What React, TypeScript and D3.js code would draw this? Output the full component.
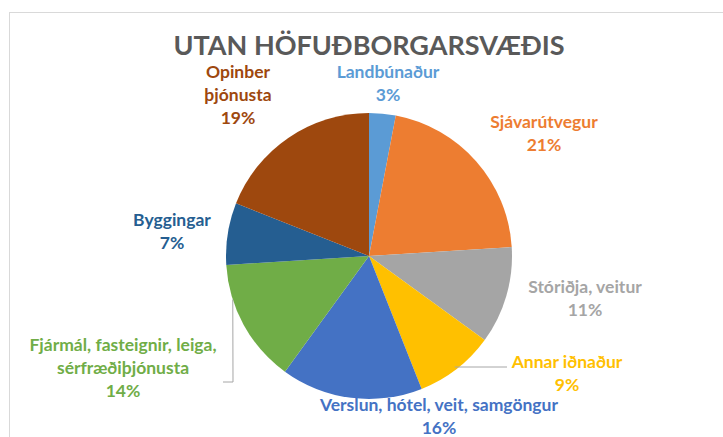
import React from "react";
import * as d3 from "d3";

const categories = [
  "Landbúnaður",
  "Sjávarútvegur",
  "Stóriðja, veitur",
  "Annar iðnaður",
  "Verslun, hótel, veit, samgöngur",
  "Fjármál, fasteignir, leiga, sérfræðiþjónusta",
  "Byggingar",
  "Opinber þjónusta",
];
const values = [3, 21, 11, 9, 16, 14, 7, 19];
const labelLines = [
  ["Landbúnaður"],
  ["Sjávarútvegur"],
  ["Stóriðja, veitur"],
  ["Annar iðnaður"],
  ["Verslun, hótel, veit, samgöngur"],
  ["Fjármál, fasteignir, leiga,", "sérfræðiþjónusta"],
  ["Byggingar"],
  ["Opinber", "þjónusta"],
];
const colors = ["#5B9BD5", "#ED7D31", "#A5A5A5", "#FFC000", "#4472C4", "#70AD47", "#255E91", "#9E480E"];
const title = "UTAN HÖFUÐBORGARSVÆÐIS";

// label anchor positions (center x, first baseline y)
const labelPos: [number, number][] = [
  [388, 78],
  [544, 128],
  [585, 293],
  [567, 368],
  [439, 411],
  [123, 351],
  [172, 226],
  [238, 78],
];

export default function App() {
  const W = 723, H = 437;
  const cx = 369, cy = 256, r = 143;
  const pie = d3.pie<number>().sort(null).value((d) => d)(values);
  const arc = d3.arc<d3.PieArcDatum<number>>().innerRadius(0).outerRadius(r);
  const lh = 23;
  const font = "Lato, 'Open Sans', sans-serif";

  const annarA = pie[3];
  const fjarA = pie[5];
  const annarAng = (annarA.startAngle + annarA.endAngle) / 2;
  const annarStart: [number, number] = [cx + Math.sin(annarAng) * r * 0.98, cy - Math.cos(annarAng) * r * 0.98];
  const fjarAng = fjarA.startAngle + (fjarA.endAngle - fjarA.startAngle) * 0.72;
  const fjarStart: [number, number] = [cx + Math.sin(fjarAng) * r, cy - Math.cos(fjarAng) * r];

  return (
    <svg width={W} height={H} style={{ position: "absolute", left: 0, top: 0, background: "#fff" }}>
      <rect x={9.5} y={12.5} width={W + 10} height={H + 10} fill="#fff" stroke="#d9d9d9" strokeWidth={1} />
      <text x={369} y={55} textAnchor="middle" fontFamily={font} fontWeight={700} fontSize={27} fill="#595959">
        {title}
      </text>
      <g transform={`translate(${cx},${cy})`}>
        {pie.map((p, i) => (
          <path key={categories[i]} d={arc(p) || ""} fill={colors[i]} />
        ))}
      </g>
      <polyline
        points={`${annarStart[0]},${labelPos[3][1] - 1} 507,${labelPos[3][1] - 1}`}
        fill="none"
        stroke="#a6a6a6"
        strokeWidth={1}
      />
      <polyline
        points={`${fjarStart[0]},${fjarStart[1]} 233,382 223,382`}
        fill="none"
        stroke="#a6a6a6"
        strokeWidth={1}
      />
      {labelLines.map((lines, i) => {
        const [x, y] = labelPos[i];
        const all = [...lines, `${values[i]}%`];
        return (
          <text key={categories[i]} x={x} y={y} textAnchor="middle" fontFamily={font} fontWeight={700} fontSize={17.5} fill={colors[i]}>
            {all.map((t, j) => (
              <tspan key={j} x={x} dy={j === 0 ? 0 : lh}>
                {t}
              </tspan>
            ))}
          </text>
        );
      })}
    </svg>
  );
}
